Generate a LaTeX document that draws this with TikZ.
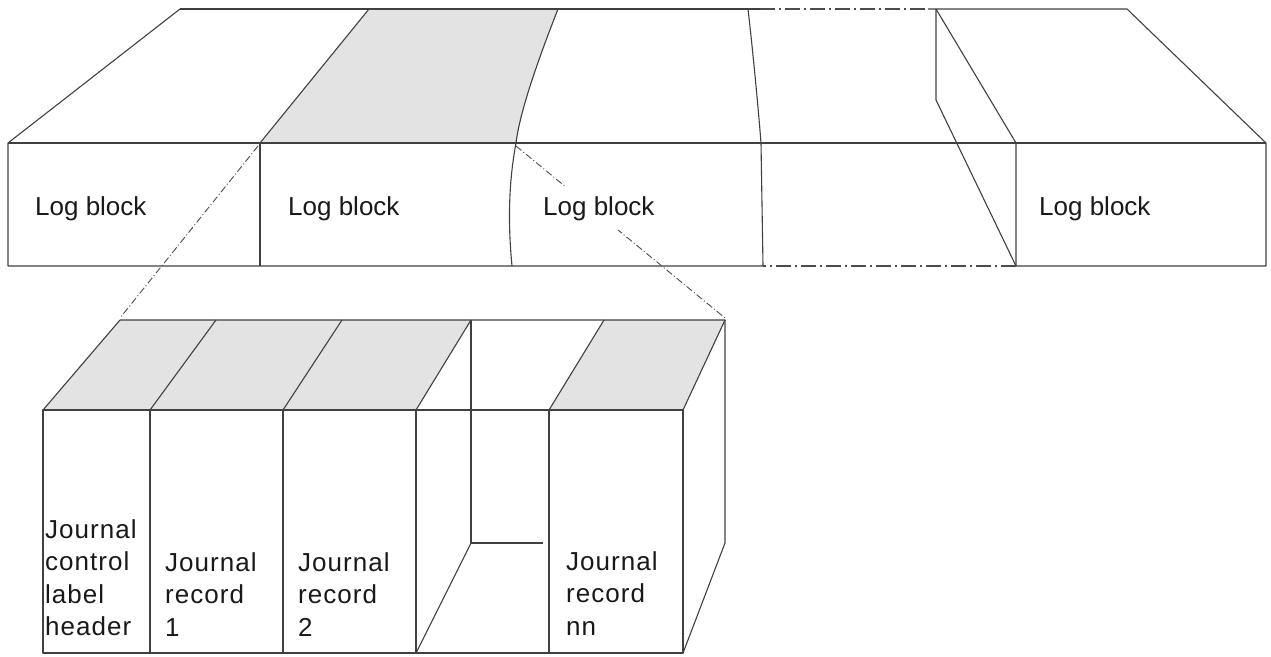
\documentclass[tikz,border=0pt]{standalone}
\usepackage{fontspec}
\setmainfont{Liberation Sans}
\newfontfamily\jfont[LetterSpace=4]{Liberation Sans}
\begin{document}
\begin{tikzpicture}[x=1pt,y=-1pt,
  ln/.style={draw=black!75,line width=1.1pt,line join=round},
  dd/.style={draw=black!70,line width=1.1pt,dash pattern=on 15pt off 4pt on 2pt off 4pt},
  fine/.style={draw=black!70,line width=0.9pt,dash pattern=on 7pt off 2.5pt on 1pt off 2.5pt},
  shade/.style={fill=black!11},
  lbl/.style={font=\fontsize{26}{31}\selectfont,text=black!90,anchor=base west,inner xsep=0pt,inner ysep=10pt},
  jl/.style={font=\jfont\fontsize{26}{32.5}\selectfont,text=black!90,anchor=north west,align=left,inner sep=0pt}]
\useasboundingbox (0,0) rectangle (1271,656);
% ---------- top strip ----------
\fill[shade] (369,9) -- (558,9) .. controls (540,55) and (520,110) .. (516,143) -- (260,143) -- cycle;
\draw[ln] (180,9) -- (760,9);
\draw[dd] (760,9) -- (928,9);
\draw[ln] (928,9) -- (1127,9) -- (1266,143) -- (1266,266) -- (1016,266);
\draw[dd] (1016,266) -- (763,266);
\draw[ln] (763,266) -- (8,266) -- (8,143) -- (180,9);
\draw[ln] (8,143) -- (1266,143);
\draw[ln] (260,143) -- (260,266);
\draw[ln] (369,9) -- (260,143);
\draw[ln] (558,9) .. controls (540,55) and (520,110) .. (516,143) .. controls (510,175) and (507,215) .. (512,266);
\draw[ln] (748,9) .. controls (755,70) and (760,130) .. (761,143) -- (763,266);
\draw[ln] (936,9) -- (936,100) -- (1016,266);
\draw[ln] (936,9) -- (1016,143) -- (1016,266);
% ---------- lower box ----------
\fill[shade] (43,410) -- (120,320) -- (471,320) -- (416,410) -- cycle;
\fill[shade] (549,410) -- (604,320) -- (725,320) -- (683,410) -- cycle;
\draw[ln] (43,410) rectangle (683,653);
\draw[ln] (120,320) -- (725,320) -- (725,543) -- (683,653);
\draw[ln] (683,410) -- (725,320);
\foreach \a/\b in {43/120,150/216,283/342,416/471,549/604}{
  \draw[ln] (\a,410) -- (\b,320);
}
\foreach \a in {150,283,416,549}{
  \draw[ln] (\a,410) -- (\a,653);
}
\draw[ln] (471,320) -- (471,543) -- (543,543);
\draw[ln] (471,543) -- (416,653);
% ---------- zoom connectors ----------
\coordinate (s1) at (258,146);
\coordinate (e1) at (120,318);
\coordinate (s2) at (516,146);
\coordinate (e2) at (725,318);
\draw[fine] (s1) -- (e1);
\draw[fine] (s2) -- (e2);
% ---------- labels ----------
\node[lbl] (lb1) at (35,215) {Log block};
\node[lbl] (lb2) at (288,215) {Log block};
\node[lbl,fill=white] (lb3) at (543,215) {Log block};
\node[lbl] (lb4) at (1039,215) {Log block};
\node[jl] (j0) at (45,519) {Journal\\control\\label\\header};
\node[jl] (j1) at (165,552) {Journal\\record\\1};
\node[jl] (j2) at (298,552) {Journal\\record\\2};
\node[jl] (jn) at (566,551) {Journal\\record\\nn};
\end{tikzpicture}
\end{document}
